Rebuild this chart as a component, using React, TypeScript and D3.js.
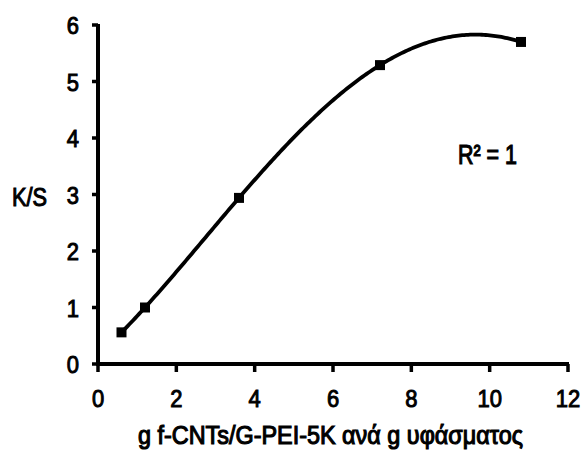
import React from "react";
import * as d3 from "d3";

const xValues = [0.6, 1.2, 3.6, 7.2, 10.8];
const yValues = [0.56, 1.0, 2.94, 5.29, 5.7];
const xTicks = [0, 2, 4, 6, 8, 10, 12];
const yTicks = [0, 1, 2, 3, 4, 5, 6];
const xTitle = "g f-CNTs/G-PEI-5K ανά g υφάσματος";
const yTitle = "K/S";
const rLabel = "R² = 1";

// Degree-4 polynomial trendline through the 5 points (R² = 1), Lagrange form
function trend(x: number): number {
  let s = 0;
  for (let i = 0; i < xValues.length; i++) {
    let t = yValues[i];
    for (let j = 0; j < xValues.length; j++) {
      if (j !== i) t *= (x - xValues[j]) / (xValues[i] - xValues[j]);
    }
    s += t;
  }
  return s;
}

export default function App() {
  const W = 582, H = 451;
  const x = d3.scaleLinear().domain([0, 12]).range([98, 568]);
  const y = d3.scaleLinear().domain([0, 6]).range([364, 25]);
  const xs = d3.range(xValues[0], xValues[xValues.length - 1] + 0.0001, 0.05);
  const line = d3.line<number>().x((d) => x(d)).y((d) => y(trend(d)));
  const font = "'Liberation Sans', Arial, sans-serif";
  const txt = { fontFamily: font, fill: "#000", stroke: "#000", strokeWidth: 0.9 } as const;
  return (
    <svg width={W} height={H} style={{ position: "absolute", left: 0, top: 0, background: "#fff" }}>
      <rect width={W} height={H} fill="#fff" />
      <path d={line(xs) || ""} fill="none" stroke="#000" strokeWidth={3.8} strokeLinejoin="round" />
      {xValues.map((v, i) => (
        <rect key={i} x={x(v) - 5} y={y(yValues[i]) - 5} width={10} height={10} fill="#000" />
      ))}
      <line x1={x(0)} x2={x(0)} y1={y(6) - 1} y2={y(0) + 2} stroke="#000" strokeWidth={4} />
      <line x1={x(0) - 2} x2={x(12) + 1} y1={y(0)} y2={y(0)} stroke="#000" strokeWidth={4} />
      {yTicks.map((t) => (
        <g key={"y" + t}>
          <line x1={x(0) - 6} x2={x(0)} y1={y(t)} y2={y(t)} stroke="#000" strokeWidth={3.5} />
          <g transform={`translate(79,${y(t) + 9}) scale(1,1.12)`}>
            <text textAnchor="end" fontSize={22} {...txt}>{t}</text>
          </g>
        </g>
      ))}
      {xTicks.map((t) => (
        <g key={"x" + t}>
          <line x1={x(t)} x2={x(t)} y1={y(0)} y2={y(0) + 8} stroke="#000" strokeWidth={3.5} />
          <g transform={`translate(${x(t)},407) scale(1,1.12)`}>
            <text textAnchor="middle" fontSize={22} {...txt}>{t}</text>
          </g>
        </g>
      ))}
      <g transform={`translate(330.5,444) scale(1,1.3)`}>
        <text textAnchor="middle" fontSize={20} textLength={385} lengthAdjust="spacingAndGlyphs" {...txt}>{xTitle}</text>
      </g>
      <g transform={`translate(12,206) scale(1,1.2)`}>
        <text fontSize={22} textLength={35} lengthAdjust="spacingAndGlyphs" {...txt}>{yTitle}</text>
      </g>
      <g transform={`translate(458,164) scale(1,1.3)`}>
        <text fontSize={21} textLength={59} lengthAdjust="spacingAndGlyphs" {...txt}>{rLabel}</text>
      </g>
    </svg>
  );
}
